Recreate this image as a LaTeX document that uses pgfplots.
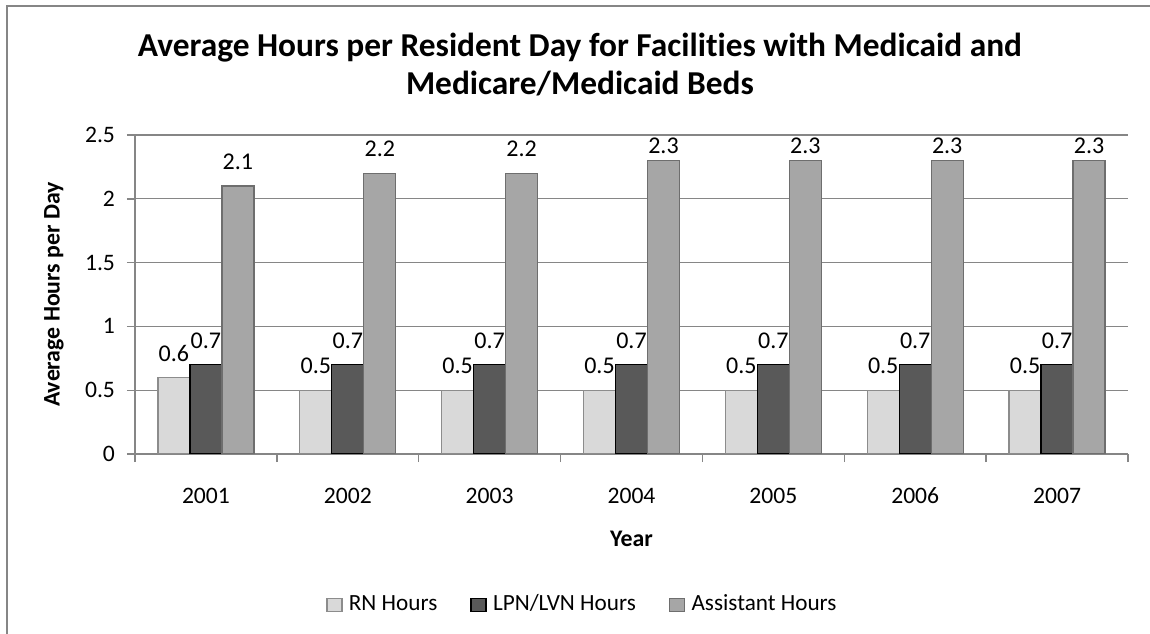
\documentclass[border=0pt]{standalone}
\usepackage{pgfplots}
\pgfplotsset{compat=1.18}
\usepackage{fontspec}
\setmainfont{Carlito}[Ligatures=NoCommon]
\definecolor{rnfill}{HTML}{D9D9D9}
\definecolor{rndraw}{HTML}{8C8C8C}
\definecolor{lpnfill}{HTML}{595959}
\definecolor{asfill}{HTML}{A6A6A6}
\definecolor{asdraw}{HTML}{6E6E6E}
\definecolor{gridgray}{HTML}{868686}
\begin{document}
\begin{tikzpicture}
\useasboundingbox (0,0) rectangle (575bp,317bp);
\draw[gridgray, line width=0.7bp] (3.5bp,-5bp) -- (3.5bp,314bp) -- (580bp,314bp);
\node[font=\fontsize{16.7bp}{19bp}\selectfont\bfseries, align=center, anchor=base] at (290bp,269.5bp)
  {Average Hours per Resident Day for Facilities with Medicaid and\\Medicare/Medicaid Beds};
\begin{axis}[
  at={(67.5bp,90bp)}, anchor=south west,
  scale only axis, width=496.5bp, height=159.5bp,
  ybar=0pt, bar width=16bp,
  xmin=-0.5, xmax=6.5, ymin=0, ymax=2.5,
  xtick={0,...,6}, xticklabels={2001,2002,2003,2004,2005,2006,2007},
  minor xtick={-0.5,0.5,...,6.5},
  ytick={0,0.5,...,2.5},
  axis x line*=bottom, axis y line*=left,
  axis line style={gridgray, line width=0.7bp},
  ymajorgrids, grid style={gridgray, line width=0.6bp},
  tick align=outside,
  major tick length=4bp, minor tick length=4bp,
  x tick style={draw=none},
  minor x tick style={draw=gridgray, line width=0.7bp},
  y tick style={gridgray, line width=0.7bp},
  tick label style={font=\fontsize{11.8bp}{13bp}\selectfont},
  /pgf/number format/assume math mode=true,
  yticklabel style={/pgf/number format/fixed, xshift=-2.5bp},
  xticklabel style={yshift=-8.8bp, text height=8.2bp, text depth=0pt},
  every axis y label/.style={at={(axis description cs:0,0.5)}, anchor=center, xshift=-40.5bp, rotate=90},
  every axis x label/.style={at={(axis description cs:0.5,0)}, anchor=center, yshift=-42.5bp},
  label style={font=\fontsize{11.9bp}{13bp}\selectfont\bfseries},
  ylabel={Average Hours per Day},
  xlabel={Year},
  nodes near coords,
  visualization depends on={rawy \as \rawy},
  every node near coord/.append style={font=\fontsize{12bp}{13bp}\selectfont, anchor=base,
    yshift={((\rawy>2.25)?3.75:8.2)*1bp}, /pgf/number format/fixed, /pgf/number format/precision=1},
  legend style={at={(0.451,-0.473)}, anchor=center, draw=none, legend columns=-1,
    font=\fontsize{11.6bp}{13bp}\selectfont,
    nodes={text height=8bp, text depth=2.5bp, inner sep=1.5bp},
    /tikz/every even column/.append style={column sep=15bp}},
  legend image code/.code={\draw[#1] (0bp,-3.25bp) rectangle (7.5bp,3.25bp); \path[draw=none,fill=none] (0bp,0bp) -- (9.5bp,0bp);},
]
\addplot[fill=rnfill, draw=rndraw, line width=0.7bp] coordinates {(0,0.6) (1,0.5) (2,0.5) (3,0.5) (4,0.5) (5,0.5) (6,0.5)};
\addplot[fill=lpnfill, draw=black, line width=0.7bp] coordinates {(0,0.7) (1,0.7) (2,0.7) (3,0.7) (4,0.7) (5,0.7) (6,0.7)};
\addplot[fill=asfill, draw=asdraw, line width=0.7bp] coordinates {(0,2.1) (1,2.2) (2,2.2) (3,2.3) (4,2.3) (5,2.3) (6,2.3)};
\legend{RN Hours, LPN/LVN Hours, Assistant Hours}
\end{axis}
\end{tikzpicture}
\end{document}
